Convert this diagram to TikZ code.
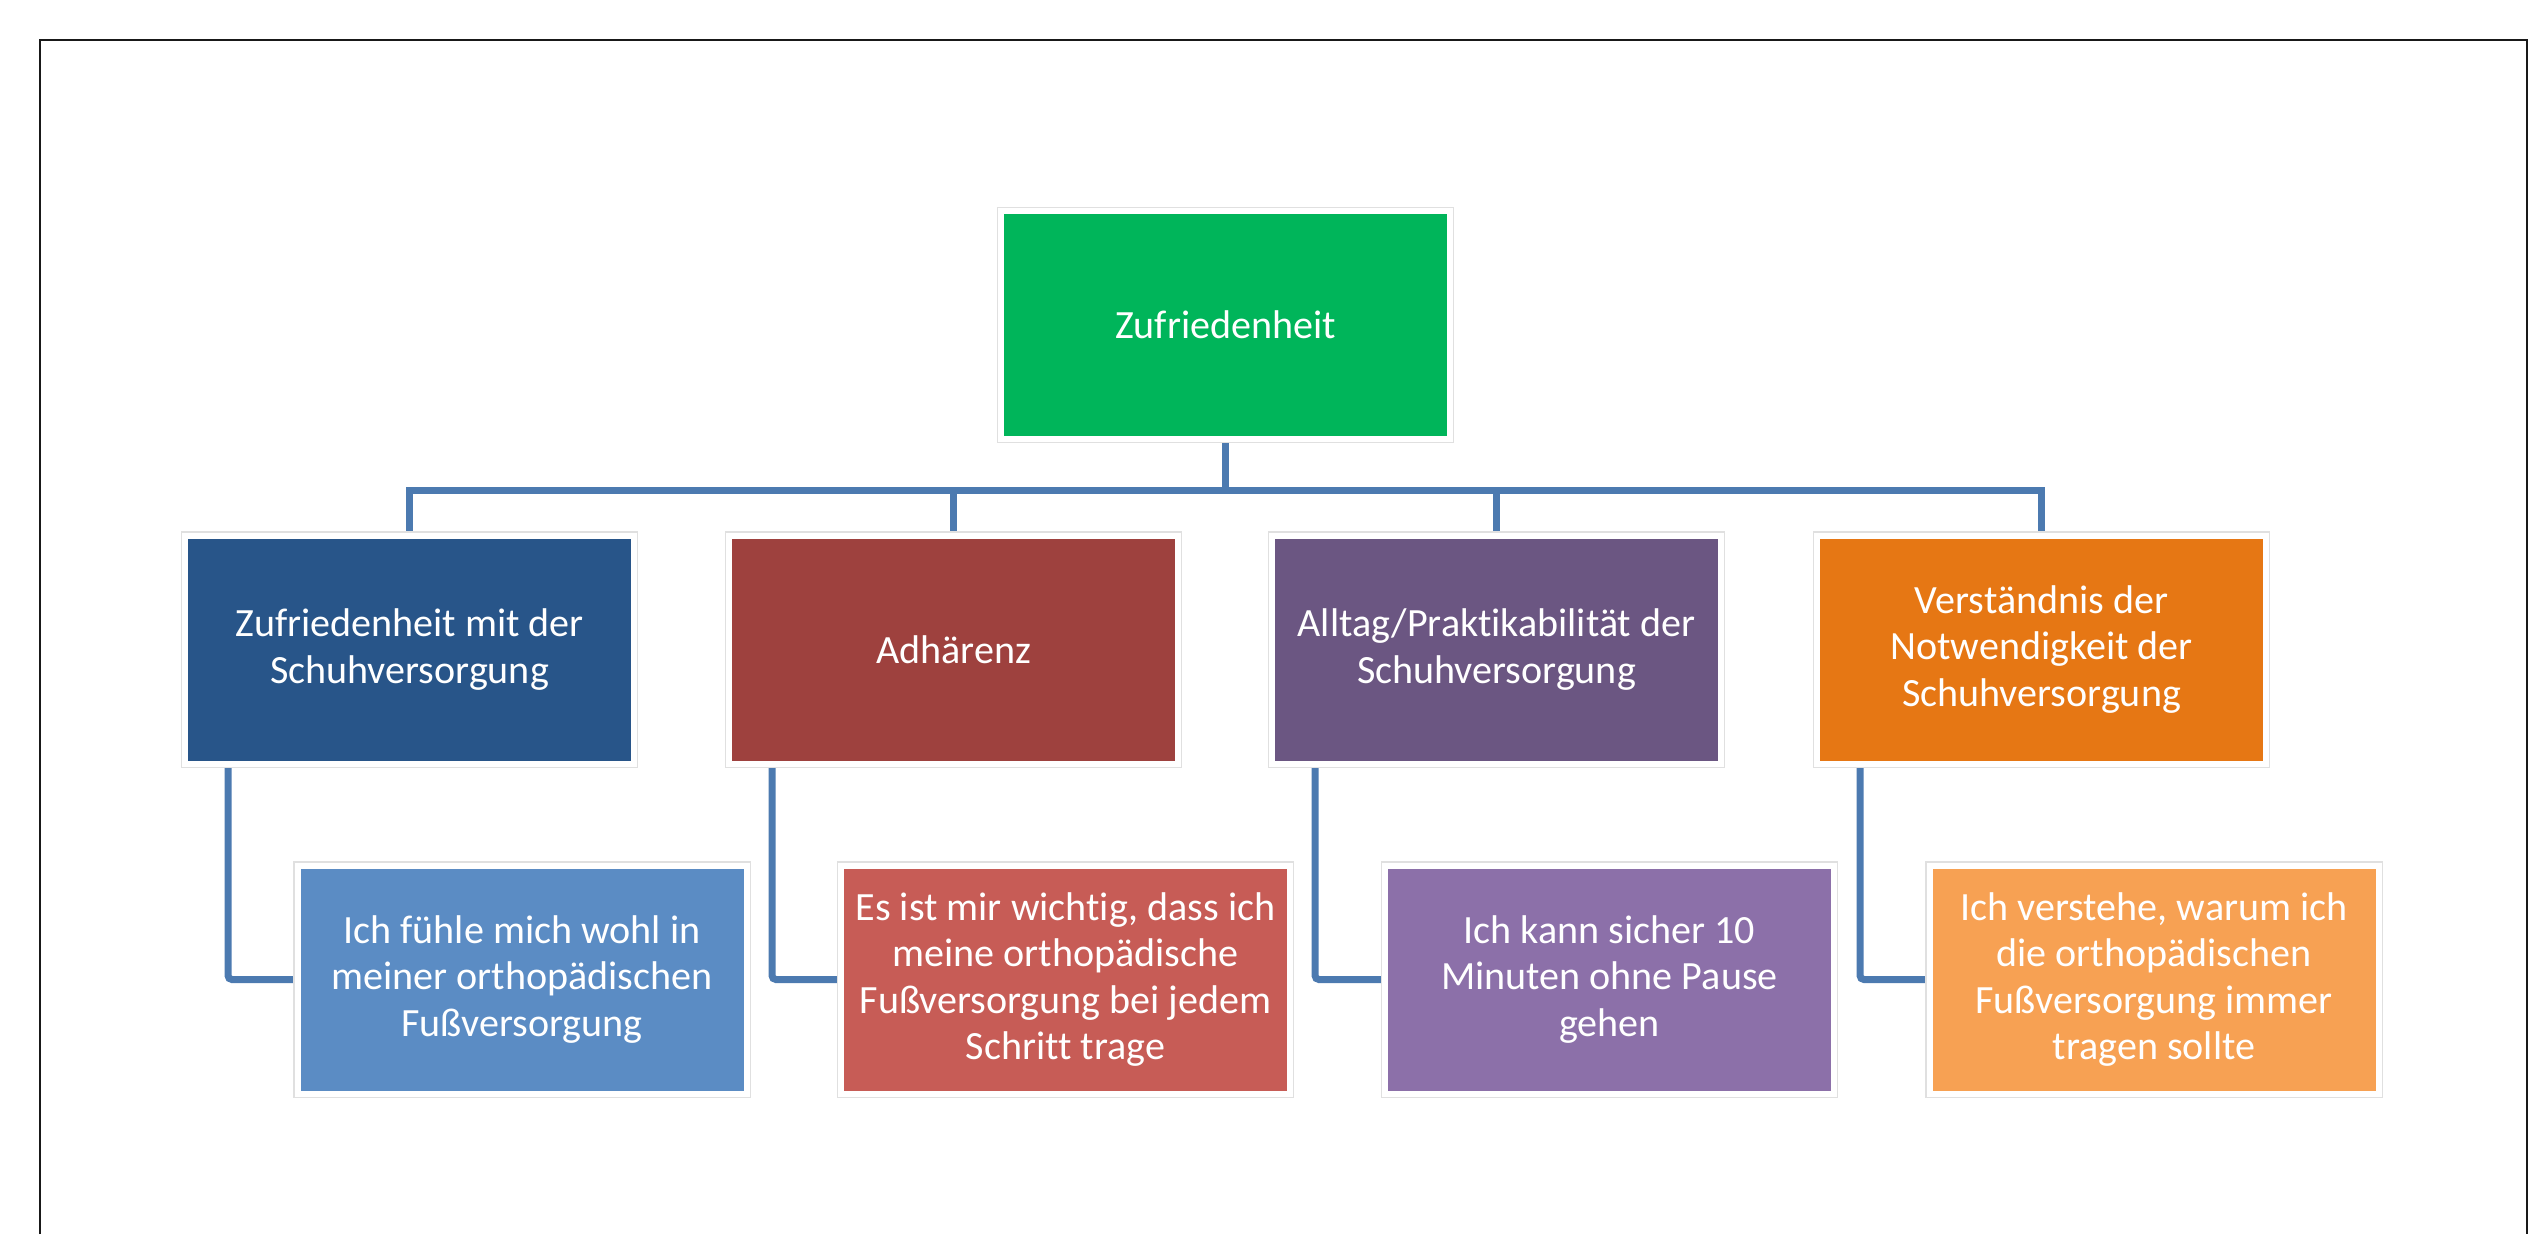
\documentclass[tikz,border=0pt]{standalone}
\usepackage{fontspec}
\setmainfont{Carlito}[Ligatures=CommonOff]
\usetikzlibrary{backgrounds}

\definecolor{gruen}{HTML}{00B55A}
\definecolor{blaudunkel}{HTML}{285589}
\definecolor{rotdunkel}{HTML}{9E413E}
\definecolor{liladunkel}{HTML}{6B5682}
\definecolor{orangedunkel}{HTML}{E67714}
\definecolor{blauhell}{HTML}{5B8CC4}
\definecolor{rothell}{HTML}{C75C56}
\definecolor{lilahell}{HTML}{8C70A9}
\definecolor{orangehell}{HTML}{F7A153}
\definecolor{linie}{HTML}{4C7AB0}

\begin{document}
\begin{tikzpicture}[
                box/.style={draw=white, line width=0.06cm,
                    preaction={draw=black!12, line width=0.085cm},
                    minimum width=4.49cm, minimum height=2.28cm,
                    inner xsep=0.04cm, inner ysep=0.1cm, align=center,
                    text=white, font=\fontsize{11.4}{13.1}\selectfont},
                link/.style={draw=linie, line width=0.07cm}
            ]

                \useasboundingbox (0, 0) rectangle (25.29, -12.34);
                \draw[line width=0.02cm, black!90] (0.40, -12.34) |- (25.27, -0.40) -- (25.27, -12.34);

                \node[box, fill=gruen] (root) at (12.255, -3.25) {Zufriedenheit};

                \node[box, fill=blaudunkel] (k1) at (4.095, -6.495) {Zufriedenheit mit der\\Schuhversorgung};
                \node[box, fill=rotdunkel] (k2) at (9.535, -6.495) {Adhärenz};
                \node[box, fill=liladunkel] (k3) at (14.965, -6.495) {Alltag/Praktikabilität der\\Schuhversorgung};
                \node[box, fill=orangedunkel] (k4) at (20.415, -6.495) {Verständnis der\\Notwendigkeit der\\Schuhversorgung};

                \node[box, fill=blauhell] (i1) at (5.22, -9.795) {Ich fühle mich wohl in\\meiner orthopädischen\\Fußversorgung};
                \node[box, fill=rothell] (i2) at (10.655, -9.795) {Es ist mir wichtig, dass ich\\meine orthopädische\\Fußversorgung bei jedem\\Schritt trage};
                \node[box, fill=lilahell] (i3) at (16.095, -9.795) {Ich kann sicher 10\\Minuten ohne Pause\\gehen};
                \node[box, fill=orangehell] (i4) at (21.54, -9.795) {Ich verstehe, warum ich\\die orthopädischen\\Fußversorgung immer\\tragen sollte};

                \begin{scope}[on background layer]
                    \foreach \n in {1,...,4} {
                        \draw[link] (root.south) -- ++(0, -0.48) -| (k\n.north);
                        \draw[link, rounded corners=0.04cm] ([xshift=0.46cm]k\n.south west) |- (i\n.west);
                    }
                \end{scope}
            \end{tikzpicture}
\end{document}
